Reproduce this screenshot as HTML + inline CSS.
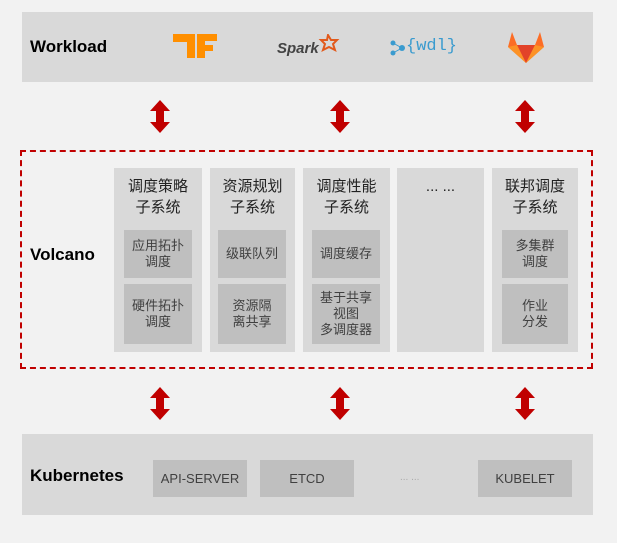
<!DOCTYPE html>
<html><head><meta charset="utf-8"><style>
body{margin:0;width:617px;height:543px;background:#f2f2f2;position:relative;font-family:"Liberation Sans","Noto Sans CJK SC",sans-serif;overflow:hidden}
.a{position:absolute}
.band{position:absolute;background:#d9d9d9;left:22px;width:571px}
.lbl{position:absolute;font-weight:bold;font-size:17px;color:#000}
.col{position:absolute;top:168px;height:184px;background:#d9d9d9}
.ct{position:absolute;top:8px;left:0;right:0;text-align:center;font-size:15px;line-height:21px;color:#222}
.in{position:absolute;background:#bfbfbf;left:10px;right:10px;display:flex;align-items:center;justify-content:center;text-align:center;font-size:13px;line-height:16px;color:#404040}
.kb{position:absolute;top:460px;height:37px;width:94px;background:#bfbfbf;display:flex;align-items:center;justify-content:center;font-size:13px;color:#404040}
</style></head><body>
<div class="band" style="top:12px;height:70px"></div>
<div class="lbl" style="left:30px;top:37px">Workload</div>
<svg class="a" style="left:170px;top:30px" width="50" height="32"><path d="M3 4H25V28H17V12H3z" fill="#ff8f00"/><path d="M27 4H47V11H35V15H43V21H35V28H27z" fill="#ff8f00"/></svg>
<div class="a" style="left:277px;top:40px;font-style:italic;font-weight:bold;font-size:15px;color:#444">Spark</div>
<svg class="a" style="left:316px;top:34px" width="24" height="18"><path d="M12 1l3 5 6 0-4 4 2 6-6-3-6 3 2-6-4-4 6 0z" fill="none" stroke="#e25a1c" stroke-width="2"/></svg>
<svg class="a" style="left:390px;top:40px" width="16" height="16"><circle cx="3" cy="3" r="2.5" fill="#3a9bcf"/><circle cx="3" cy="13" r="2.5" fill="#3a9bcf"/><circle cx="12" cy="8" r="3" fill="#3a9bcf"/><path d="M3 3L12 8L3 13" stroke="#3a9bcf" fill="none"/></svg>
<div class="a" style="left:406px;top:37px;font-family:'Liberation Mono',monospace;font-size:17px;color:#3a9bcf">{wdl}</div>
<svg class="a" style="left:506px;top:28px" width="40" height="36"><path d="M20 35L2 19 6 4 11 17h18L34 4 38 19z" fill="#fc6d26"/><path d="M20 35L11 17h18z" fill="#e24329"/><path d="M2 19L11 17 20 35z M38 19L29 17 20 35z" fill="#fca326" opacity=".7"/></svg>

<div class="a" style="left:20px;top:150px;width:569px;height:215px;border:2px dashed #c00000"></div>
<div class="lbl" style="left:30px;top:245px">Volcano</div>

<div class="col" style="left:114px;width:88px"><div class="ct">调度策略<br>子系统</div>
<div class="in" style="top:62px;height:48px">应用拓扑<br>调度</div><div class="in" style="top:116px;height:60px">硬件拓扑<br>调度</div></div>
<div class="col" style="left:210px;width:85px"><div class="ct">资源规划<br>子系统</div>
<div class="in" style="top:62px;height:48px;left:8px;right:9px">级联队列</div><div class="in" style="top:116px;height:60px;left:8px;right:9px">资源隔<br>离共享</div></div>
<div class="col" style="left:303px;width:87px"><div class="ct">调度性能<br>子系统</div>
<div class="in" style="top:62px;height:48px;left:9px">调度缓存</div><div class="in" style="top:116px;height:60px;left:9px">基于共享<br>视图<br>多调度器</div></div>
<div class="col" style="left:397px;width:87px"><div class="ct">... ...</div></div>
<div class="col" style="left:492px;width:86px"><div class="ct">联邦调度<br>子系统</div>
<div class="in" style="top:62px;height:48px">多集群<br>调度</div><div class="in" style="top:116px;height:60px">作业<br>分发</div></div>

<div class="band" style="top:434px;height:81px"></div>
<div class="lbl" style="left:30px;top:466px">Kubernetes</div>
<div class="kb" style="left:153px">API-SERVER</div>
<div class="kb" style="left:260px">ETCD</div>
<div class="a" style="left:400px;top:472px;font-size:10px;color:#aaa">... ...</div>
<div class="kb" style="left:478px">KUBELET</div>

<svg class="a" style="left:0;top:0" width="617" height="543">
<defs><path id="ar" d="M0 0l10 11h-6v11h6l-10 11-10-11h6v-11h-6z" fill="#c00000"/></defs>
<use href="#ar" x="160" y="100"/><use href="#ar" x="340" y="100"/><use href="#ar" x="525" y="100"/>
<use href="#ar" x="160" y="387"/><use href="#ar" x="340" y="387"/><use href="#ar" x="525" y="387"/>
</svg>
</body></html>
